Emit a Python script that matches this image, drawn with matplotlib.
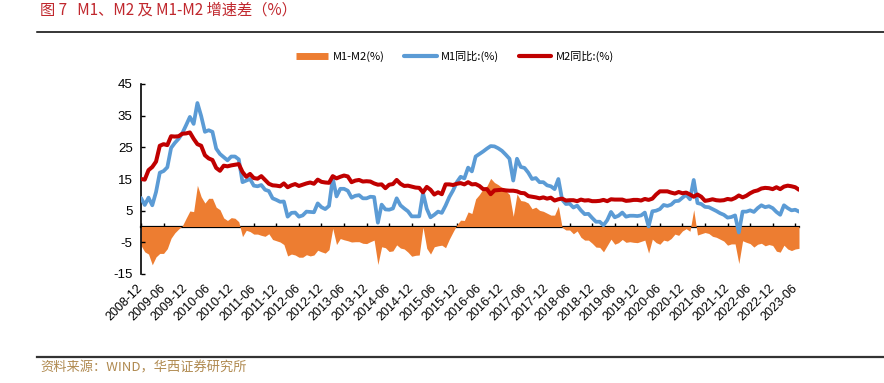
import matplotlib
matplotlib.use("Agg")
import matplotlib.pyplot as plt
from matplotlib.lines import Line2D
import numpy as np

plt.rcParams['font.family'] = ['Liberation Sans', 'Noto Sans CJK SC', 'DejaVu Sans']
plt.rcParams['axes.unicode_minus'] = False

# Monthly YoY growth, 2008-10 .. 2023-05
m1 = [9.0, 6.8, 9.1,
      6.7, 10.9, 17.0, 17.5, 18.7, 24.8, 26.4, 27.7, 29.5, 32.0, 34.6, 32.4,
      39.0, 34.9, 29.9, 30.4, 29.9, 24.6, 22.9, 21.9, 20.9, 22.1, 22.1, 21.2,
      14.0, 14.5, 15.0, 12.9, 12.7, 13.1, 11.6, 11.2, 8.9, 8.4, 7.8, 7.9,
      3.1, 4.3, 4.4, 3.1, 3.5, 4.7, 4.6, 4.5, 7.3, 6.1, 5.5, 6.5,
      15.3, 9.5, 11.9, 11.9, 11.3, 9.1, 9.7, 9.9, 8.9, 8.9, 9.4, 9.3,
      1.2, 6.9, 5.4, 5.3, 5.7, 8.9, 6.7, 5.7, 4.8, 3.2, 3.2, 3.2,
      10.6, 5.6, 2.9, 3.7, 4.7, 4.3, 6.6, 9.3, 11.4, 14.0, 15.7, 15.2,
      18.6, 17.4, 22.1, 22.9, 23.7, 24.6, 25.4, 25.3, 24.7, 23.9, 22.7, 21.4,
      14.5, 21.4, 18.8, 18.5, 17.0, 15.0, 15.3, 14.0, 14.0, 13.0, 12.7, 11.8,
      15.0, 8.5, 7.1, 7.2, 6.0, 6.6, 5.1, 3.9, 4.0, 2.7, 1.5, 1.5,
      0.4, 2.0, 4.6, 2.9, 3.4, 4.4, 3.1, 3.4, 3.4, 3.3, 3.5, 4.4,
      0.0, 4.8, 5.0, 5.5, 6.8, 6.5, 6.9, 8.0, 8.1, 9.1, 10.0, 8.6,
      14.7, 7.4, 7.1, 6.2, 6.1, 5.5, 4.9, 4.2, 3.7, 2.8, 3.0, 3.5,
      -1.9, 4.7, 4.7, 5.1, 4.6, 5.8, 6.7, 6.1, 6.4, 5.8, 4.6, 3.7,
      6.7, 5.8, 5.1, 5.3, 4.7]

m2 = [15.0, 14.8, 17.8,
      18.8, 20.5, 25.5, 26.0, 25.7, 28.5, 28.4, 28.5, 29.3, 29.4, 29.7, 27.7,
      26.0, 25.5, 22.5, 21.5, 21.0, 18.5, 17.6, 19.2, 19.0, 19.3, 19.5, 19.7,
      17.2, 15.7, 16.6, 15.3, 15.1, 15.9, 14.7, 13.5, 13.0, 12.9, 12.7, 13.6,
      12.4, 13.0, 13.4, 12.8, 13.2, 13.6, 13.9, 13.5, 14.8, 14.1, 13.9, 13.8,
      15.9, 15.2, 15.7, 16.1, 15.8, 14.0, 14.5, 14.7, 14.2, 14.3, 14.2, 13.6,
      13.2, 13.3, 12.1, 13.2, 13.4, 14.7, 13.5, 12.8, 12.9, 12.6, 12.3, 12.2,
      10.8, 12.5, 11.6, 10.1, 10.8, 10.2, 13.3, 13.3, 13.1, 13.5, 13.7, 13.3,
      14.0, 13.3, 13.4, 12.8, 11.8, 11.8, 10.2, 11.4, 11.5, 11.6, 11.4, 11.3,
      11.3, 11.1, 10.6, 10.5, 9.6, 9.4, 9.2, 8.9, 9.2, 8.8, 9.1, 8.2,
      8.6, 8.8, 8.2, 8.3, 8.3, 8.0, 8.5, 8.2, 8.3, 8.0, 8.0, 8.1,
      8.4, 8.0, 8.6, 8.5, 8.5, 8.5, 8.1, 8.2, 8.4, 8.4, 8.2, 8.7,
      8.4, 8.8, 10.1, 11.1, 11.1, 11.1, 10.7, 10.4, 10.9, 10.5, 10.7, 10.1,
      9.4, 10.1, 9.4, 8.1, 8.3, 8.6, 8.3, 8.2, 8.3, 8.7, 8.5, 9.0,
      9.8, 9.2, 9.7, 10.5, 11.1, 11.4, 12.0, 12.2, 12.1, 11.8, 12.4, 11.8,
      12.6, 12.9, 12.7, 12.4, 11.6]

tick_labels = ['2008-12', '2009-06', '2009-12', '2010-06', '2010-12', '2011-06',
               '2011-12', '2012-06', '2012-12', '2013-06', '2013-12', '2014-06',
               '2014-12', '2015-06', '2015-12', '2016-06', '2016-12', '2017-06',
               '2017-12', '2018-06', '2018-12', '2019-06', '2019-12', '2020-06',
               '2020-12', '2021-06', '2021-12', '2022-06', '2022-12', '2023-06']
y_ticks = [-15, -5, 5, 15, 25, 35, 45]

m1 = np.array(m1)
m2 = np.array(m2)
spread = m1 - m2
x = np.arange(len(m1))

C_OR = '#ED7D31'
C_BL = '#5B9BD5'
C_RD = '#C00000'
CJK = ['Noto Sans CJK SC', 'DejaVu Sans']

W, H = 884, 383
fig = plt.figure(figsize=(W / 100, H / 100), dpi=100)
ax = fig.add_axes([141 / W, 109 / H, 658 / W, 190 / H])

ax.fill_between(x, spread, 0, color=C_OR, linewidth=0, zorder=1)
ax.plot(x, m1, color=C_BL, lw=2.7, zorder=3, solid_joinstyle='round',
        solid_capstyle='round')
ax.plot(x, m2, color=C_RD, lw=2.9, zorder=4, solid_joinstyle='round',
        solid_capstyle='round')

ax.set_xlim(0, len(m1) - 1)
ax.set_ylim(-15, 45)
ax.set_yticks(y_ticks)
ax.set_yticklabels([str(v) for v in y_ticks], fontsize=9.5)
ax.tick_params(axis='y', direction='in', length=3, width=1, pad=6)

ax.set_xticks(np.arange(0, len(m1), 6))
ax.set_xticklabels(tick_labels, rotation=45, ha='right', va='center',
                   rotation_mode='anchor', fontsize=9)
ax.tick_params(axis='x', length=0, pad=9)

for s in ['top', 'right', 'bottom']:
    ax.spines[s].set_visible(False)
ax.spines['left'].set_linewidth(1.2)

# zero axis line with tick marks pointing up
sec = ax.secondary_xaxis(15 / 60)
sec.set_xticks(np.arange(0, len(m1), 6))
sec.set_xticklabels([])
sec.tick_params(direction='in', length=3, width=1)
sec.spines['bottom'].set_linewidth(1.6)
sec.spines['top'].set_visible(False)

handles = [Line2D([], [], color=C_OR, lw=5, solid_capstyle='butt'),
           Line2D([], [], color=C_BL, lw=3, solid_capstyle='round'),
           Line2D([], [], color=C_RD, lw=3, solid_capstyle='round')]
labels = ['M1-M2(%)', 'M1同比:(%)', 'M2同比:(%)']
fig.legend(handles, labels, loc='center', bbox_to_anchor=(455 / W, 1 - 56 / H),
           ncol=3, frameon=False, handlelength=2.9, handletextpad=0.4,
           columnspacing=1.8, prop={'family': CJK, 'size': 8})

# title and frame lines
fig.text(40 / W, 1 - 10 / H, '图 7   M1、M2 及 M1-M2 增速差（%）', color='#C0272D',
         fontsize=11, va='center', ha='left', family=CJK, weight='medium')
fig.add_artist(Line2D([37 / W, 1], [1 - 32 / H, 1 - 32 / H], transform=fig.transFigure,
                      color='black', lw=1.1))
fig.add_artist(Line2D([37 / W, 1], [1 - 357 / H, 1 - 357 / H], transform=fig.transFigure,
                      color='#333333', lw=1.6))
fig.text(40 / W, 1 - 368 / H, '资料来源：WIND，华西证券研究所', color='#B08A50',
         fontsize=9.5, va='center', ha='left', family=CJK)

fig.savefig('out.png', dpi=100)
